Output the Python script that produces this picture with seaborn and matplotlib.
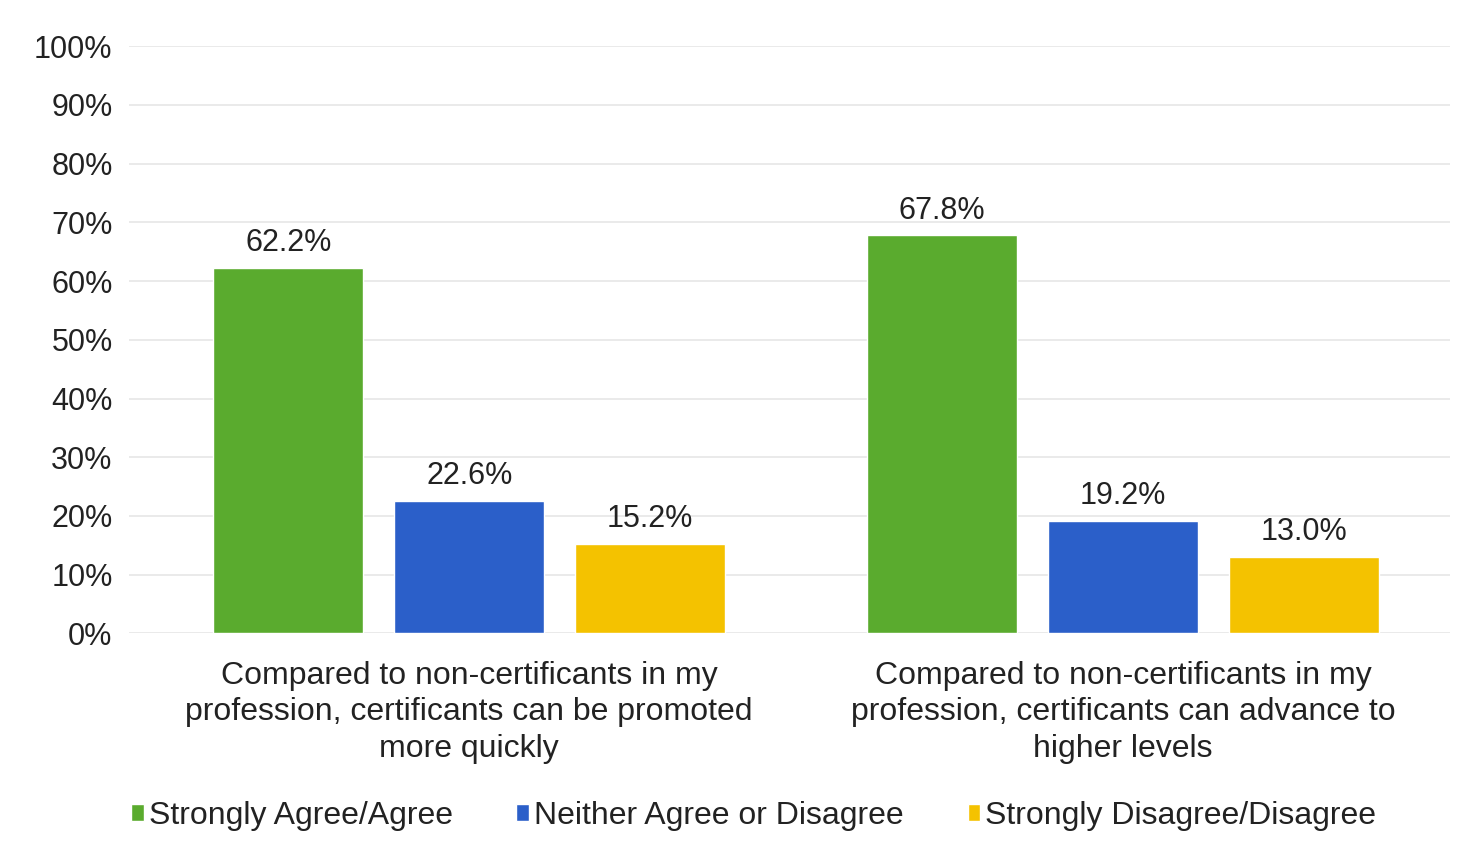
import pandas as pd
import matplotlib.pyplot as plt
import seaborn as sns
from matplotlib.ticker import PercentFormatter

# Chart data
statements = [
    "Compared to non-certificants in my\nprofession, certificants can be promoted\nmore quickly",
    "Compared to non-certificants in my\nprofession, certificants can advance to\nhigher levels",
]
responses = ["Strongly Agree/Agree", "Neither Agree or Disagree", "Strongly Disagree/Disagree"]
agree = [62.2, 67.8]
neither = [22.6, 19.2]
disagree = [15.2, 13.0]
y_ticks = [0, 10, 20, 30, 40, 50, 60, 70, 80, 90, 100]

colors = ["#5aab2e", "#2b5fc9", "#f4c200"]

df = pd.DataFrame({
    "statement": statements * 3,
    "response": [r for r in responses for _ in statements],
    "value": agree + neither + disagree,
})

sns.set_theme(style="white")
plt.rcParams['font.family'] = ['Liberation Sans', 'DejaVu Sans']

fig = plt.figure(figsize=(14.69, 8.57), dpi=100)
ax = fig.add_axes([0.088, 0.261, 0.899, 0.685])

sns.barplot(data=df, x="statement", y="value", hue="response",
            palette=colors, saturation=1, width=0.83, gap=0.17, ax=ax, legend=True)

# value labels above the bars
for container in ax.containers:
    ax.bar_label(container, fmt="%.1f%%", padding=7, fontsize=22, color="#222222")

ax.set_ylim(0, 100)
ax.set_xlim(-0.52, 1.5)
ax.set_yticks(y_ticks)
ax.yaxis.set_major_formatter(PercentFormatter(decimals=0))
ax.yaxis.grid(True, color="#e6e6e6", linewidth=1.2)
ax.set_axisbelow(True)
ax.set_xlabel("")
ax.set_ylabel("")
ax.tick_params(axis="y", labelsize=22, pad=12, length=0, colors="#222222")
ax.tick_params(axis="x", labelsize=23, pad=20, length=0, colors="#222222")
for lbl in ax.get_xticklabels():
    lbl.set_linespacing(1.27)
for s in ax.spines.values():
    s.set_visible(False)

handles, labels = ax.get_legend_handles_labels()
ax.get_legend().remove()
fig.legend(handles, labels, loc="center", bbox_to_anchor=(0.513, 0.048), ncol=3,
           frameon=False, fontsize=23, handlelength=0.4, handleheight=0.4,
           handletextpad=0.15, columnspacing=2.0, labelcolor="#222222")

fig.savefig("out.png", dpi=100, facecolor="white")
